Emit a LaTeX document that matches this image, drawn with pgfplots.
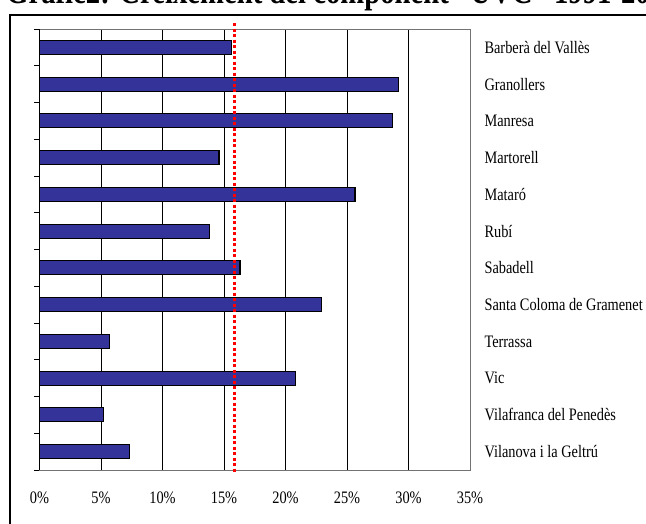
\documentclass[border=0pt]{standalone}
\usepackage{fontspec}
\setmainfont{Liberation Serif}[FakeStretch=0.82]
\usepackage{pgfplots}
\pgfplotsset{compat=1.18}
\definecolor{barblue}{HTML}{333399}
\definecolor{avgred}{HTML}{FF0000}
\begin{document}
\begin{tikzpicture}[x=1pt,y=1pt]
\path[use as bounding box] (0,0) rectangle (646,523);
% chart frame (cropped like the original)
\draw[line width=1.5pt] (10,-20) -- (10,508) -- (670,508);
\node[anchor=base west, font=\bfseries\fontsize{35}{37}\selectfont, inner sep=0]
  at (6,519) {Gràfic2: Creixement del component ``UVC'' 1991-2001};
\begin{axis}[
  at={(39.5pt,53pt)}, anchor=south west,
  scale only axis, width=430.5pt, height=441pt,
  xmin=0, xmax=35, ymin=-0.5, ymax=11.5,
  y dir=reverse,
  clip=false,
  xtick={0,5,...,35},
  xmajorgrids,
  major grid style={black, line width=0.8pt},
  axis line style={draw=gray!90!black, line width=1pt},
  xtick style={draw=none},
  xticklabel={\pgfmathprintnumber[assume math mode=true]{\tick}\%},
  xticklabel style={yshift=-18pt},
  ytick={0,...,11},
  yticklabels={Barberà del Vallès, Granollers, Manresa, Martorell, Mataró, Rubí,
    Sabadell, Santa Coloma de Gramenet, Terrassa, Vic, Vilafranca del Penedès,
    Vilanova i la Geltrú},
  ytick pos=left, yticklabel pos=right,
  major tick length=0pt,
  minor ytick={-0.5,0.5,...,11.5},
  minor tick length=5pt, tick align=outside,
  minor tick style={black, line width=0.8pt},
  yticklabel style={xshift=11pt},
  ticklabel style={font=\fontsize{17.5}{18}\selectfont},
]
\addplot[xbar, bar width=14pt, fill=barblue, draw=black, line width=1.2pt] coordinates {
  (15.6,0) (29.2,1) (28.7,2) (14.6,3) (25.65,4) (13.8,5)
  (16.3,6) (22.9,7) (5.7,8) (20.8,9) (5.2,10) (7.3,11)
};
\addplot[avgred, line width=3pt, dash pattern=on 3pt off 2.5pt]
  coordinates {(15.85,-0.66) (15.85,11.58)};
\draw[black, line width=1.2pt] (axis cs:0,-0.5) -- (axis cs:0,11.5);
\end{axis}
\end{tikzpicture}
\end{document}
